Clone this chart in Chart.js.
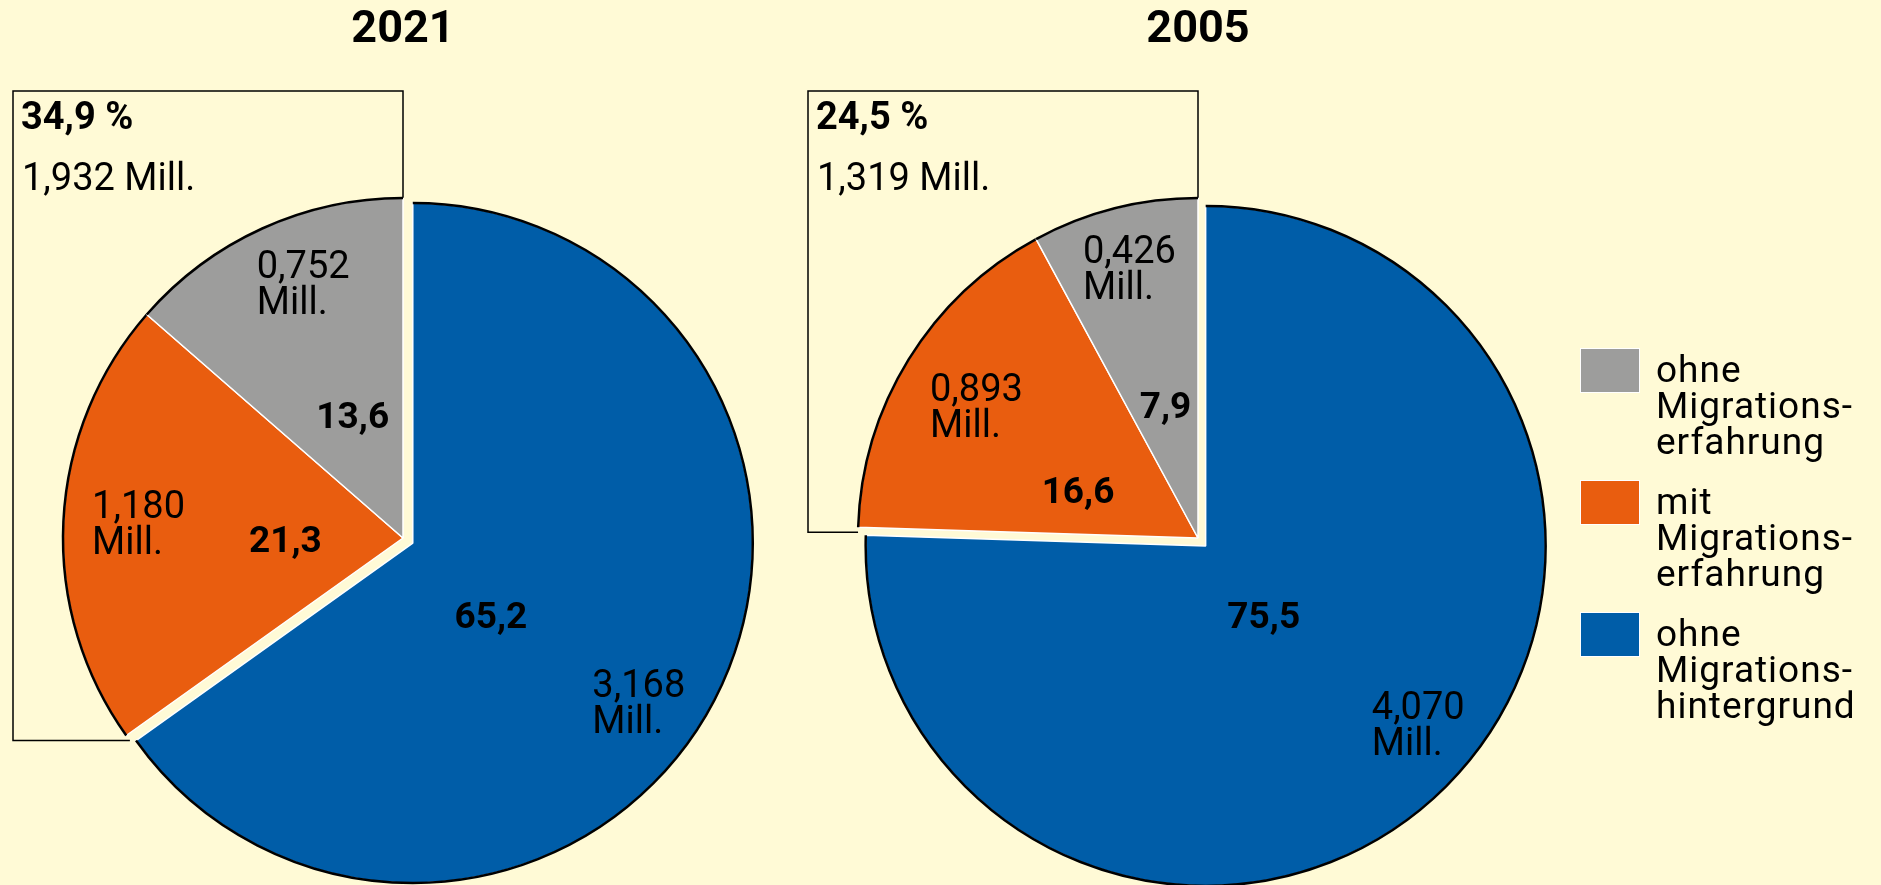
<!DOCTYPE html>
<html><head><meta charset="utf-8">
<script src="https://cdn.jsdelivr.net/npm/chart.js@4.4.1/dist/chart.umd.min.js"></script>
<style>
html,body{margin:0;padding:0;background:#FFFAD6;width:1881px;height:885px;overflow:hidden;font-family:Roboto,'Liberation Sans',sans-serif;}
#c1{position:absolute;left:0;top:0;}
#c2{position:absolute;left:806px;top:0;}
#legend{position:absolute;left:1580px;top:352px;}
.item{display:flex;align-items:flex-start;margin-bottom:24px;}
.sw{width:58px;height:43px;border:1px solid #fff;margin-top:-4px;margin-right:16px;flex:none;box-sizing:content-box}
.txt{font-size:37px;line-height:36px;letter-spacing:1.0px;color:#000;white-space:nowrap}
</style></head>
<body>
<canvas id="c1" width="806" height="885"></canvas>
<canvas id="c2" width="784" height="885"></canvas>
<div id="legend"></div>
<script>
// ---- data ----
const categories = ['ohne Migrationshintergrund', 'mit Migrationserfahrung', 'ohne Migrationserfahrung'];
const legendLines = [['ohne', 'Migrations-', 'hintergrund'], ['mit', 'Migrations-', 'erfahrung'], ['ohne', 'Migrations-', 'erfahrung']];
const years = ['2021', '2005'];
const share2021 = [65.2, 21.3, 13.6];
const mill2021 = [3.168, 1.180, 0.752];
const share2005 = [75.5, 16.6, 7.9];
const mill2005 = [4.070, 0.893, 0.426];

// ---- styles / label placement (angle shift in degrees from slice middle, radius fraction) ----
const colors = ['#005DA8', '#E95D0F', '#9D9D9C'];
const pctPlace2021 = [[15.5, 0.313], [-3.3, 0.346], [2.3, 0.392]];
const valPlace2021 = [[7.8, 0.812], [0.5, 0.779], [3.1, 0.806]];
const pctPlace2005 = [[3.8, 0.264], [-9.9, 0.380], [0.5, 0.403]];
const valPlace2005 = [[-6.0, 0.815], [-0.7, 0.760], [0.0, 0.821]];
const FONT = 'Roboto, "Liberation Sans", sans-serif';
const EXPLODE_INDEX = 0;
const EXPLODE = 11;
const CAP = 0.711;

const fmt = (v, d) => v.toFixed(d).replace('.', ',');

function sliceCenter(arc, i) {
  const p = arc.getProps(['x', 'y', 'startAngle', 'endAngle', 'outerRadius'], true);
  const mid = (p.startAngle + p.endAngle) / 2;
  const d = i === EXPLODE_INDEX ? EXPLODE : 0;
  return {cx: p.x + Math.cos(mid) * d, cy: p.y + Math.sin(mid) * d, mid, R: p.outerRadius, p};
}

const explodePlugin = {
  id: 'explode',
  beforeDatasetsDraw(chart) {
    chart.getDatasetMeta(0).data.forEach((arc, i) => {
      if (arc._patched) return;
      arc._patched = true;
      const orig = arc.draw;
      arc.draw = function (ctx) {
        const s = sliceCenter(this, i);
        ctx.save();
        ctx.translate(s.cx - s.p.x, s.cy - s.p.y);
        orig.call(this, ctx);
        ctx.beginPath();
        ctx.arc(s.p.x, s.p.y, s.R, s.p.startAngle, s.p.endAngle);
        ctx.lineWidth = 2.5;
        ctx.strokeStyle = '#000';
        ctx.stroke();
        ctx.restore();
      };
    });
  }
};

function makeBoxPlugin(shares, mills) {
  return {
    id: 'box',
    beforeDatasetsDraw(chart) {
      const ctx = chart.ctx;
      const data = chart.getDatasetMeta(0).data;
      const p = data[1].getProps(['x', 'y', 'startAngle', 'outerRadius'], true);
      const cx = p.x, cy = p.y, R = p.outerRadius;
      const left = cx - R - 50, top = cy - R - 107, right = cx;
      const bottom = cy + R * Math.sin(p.startAngle) + 5;
      const bx = cx - Math.sqrt(Math.max(R * R - (bottom - cy) * (bottom - cy), 0));
      ctx.save();
      ctx.strokeStyle = '#000';
      ctx.lineWidth = 1.5;
      ctx.beginPath();
      ctx.moveTo(right, cy - R);
      ctx.lineTo(right, top);
      ctx.lineTo(left, top);
      ctx.lineTo(left, bottom);
      ctx.lineTo(bx, bottom);
      ctx.stroke();
      const sumPct = shares.slice(1).reduce((a, b) => a + b, 0);
      const sumMill = mills.slice(1).reduce((a, b) => a + b, 0);
      ctx.fillStyle = '#000';
      ctx.textAlign = 'left';
      ctx.textBaseline = 'alphabetic';
      ctx.font = 'bold 38px ' + FONT;
      ctx.fillText(fmt(sumPct, 1) + ' %', left + 8, top + 38);
      ctx.font = '38px ' + FONT;
      ctx.fillText(fmt(sumMill, 3) + ' Mill.', left + 9, top + 99);
      ctx.restore();
    }
  };
}

function makeLabelPlugin(shares, mills, pctPlace, valPlace) {
  return {
    id: 'sliceLabels',
    afterDatasetsDraw(chart) {
      const ctx = chart.ctx;
      ctx.save();
      ctx.fillStyle = '#000';
      ctx.textBaseline = 'alphabetic';
      chart.getDatasetMeta(0).data.forEach((arc, i) => {
        const s = sliceCenter(arc, i);
        // percentage
        let a = s.mid + pctPlace[i][0] * Math.PI / 180;
        let r = pctPlace[i][1] * s.R;
        ctx.font = 'bold 37px ' + FONT;
        ctx.textAlign = 'center';
        ctx.fillText(fmt(shares[i], 1), s.cx + Math.cos(a) * r, s.cy + Math.sin(a) * r + 37 * CAP / 2);
        // value block
        a = s.mid + valPlace[i][0] * Math.PI / 180;
        r = valPlace[i][1] * s.R;
        const x = s.cx + Math.cos(a) * r, y = s.cy + Math.sin(a) * r;
        ctx.font = '38px ' + FONT;
        const lines = [fmt(mills[i], 3), 'Mill.'];
        const w = Math.max(...lines.map(t => ctx.measureText(t).width));
        const lh = 36, cap = 38 * CAP;
        const b1 = y - (lh + cap) / 2 + cap;
        ctx.textAlign = 'left';
        lines.forEach((t, k) => ctx.fillText(t, x - w / 2, b1 + k * lh));
      });
      ctx.restore();
    }
  };
}

function makeChart(id, year, shares, mills, pctPlace, valPlace) {
  return new Chart(document.getElementById(id), {
    type: 'pie',
    data: {
      labels: categories,
      datasets: [{data: shares, backgroundColor: colors, borderColor: '#ffffff', borderWidth: 1.5}]
    },
    options: {
      responsive: false,
      animation: false,
      devicePixelRatio: 1,
      events: [],
      layout: {padding: {top: 0, bottom: 6.25, left: 0, right: 0}},
      plugins: {
        legend: {display: false},
        tooltip: {enabled: false},
        title: {
          display: true, text: year, color: '#000',
          font: {family: FONT, size: 45, weight: 'bold', lineHeight: 1.2},
          padding: {top: 4, bottom: 139.25}
        }
      }
    },
    plugins: [makeBoxPlugin(shares, mills), explodePlugin, makeLabelPlugin(shares, mills, pctPlace, valPlace)]
  });
}

makeChart('c1', years[0], share2021, mill2021, pctPlace2021, valPlace2021);
makeChart('c2', years[1], share2005, mill2005, pctPlace2005, valPlace2005);

// legend (reverse order: grey, orange, blue)
const legend = document.getElementById('legend');
[2, 1, 0].forEach(i => {
  const item = document.createElement('div');
  item.className = 'item';
  const sw = document.createElement('div');
  sw.className = 'sw';
  sw.style.background = colors[i];
  const txt = document.createElement('div');
  txt.className = 'txt';
  txt.innerHTML = legendLines[i].join('<br>');
  item.appendChild(sw);
  item.appendChild(txt);
  legend.appendChild(item);
});
</script>
</body></html>
